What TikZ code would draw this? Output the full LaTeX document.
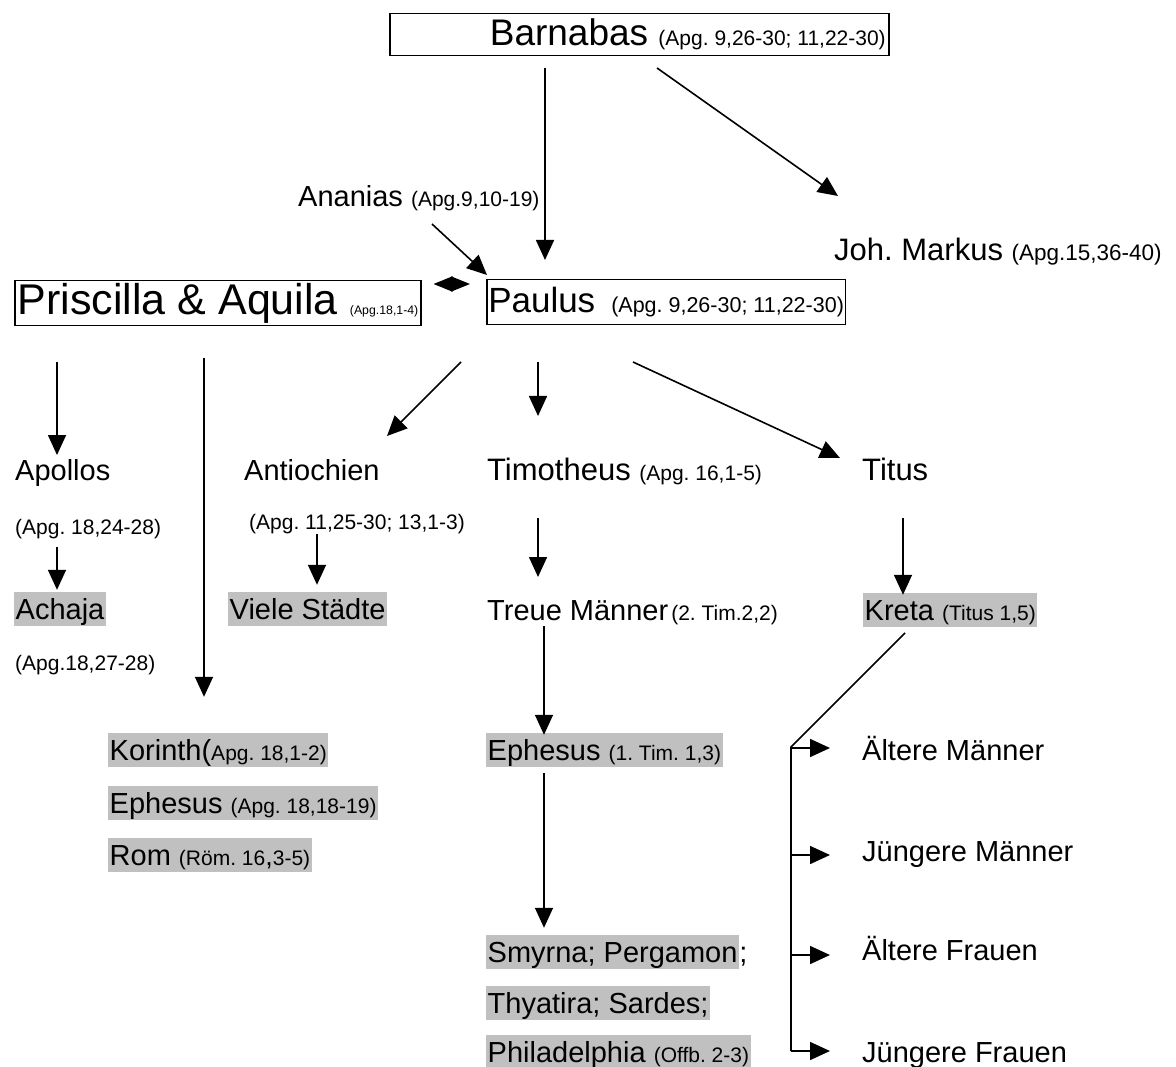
\documentclass[tikz,border=0pt]{standalone}
\usepackage{fontspec}
\setmainfont{Liberation Sans}
\usetikzlibrary{arrows.meta}
\definecolor{shade}{RGB}{192,192,192}
\newcommand{\refs}[1]{{\fontsize{21}{24}\selectfont #1}}
\frenchspacing

\begin{document}
\begin{tikzpicture}[x=1pt, y=-1pt,
  every node/.style={font=\fontsize{29}{34}\selectfont},
  >={Triangle[length=20pt,width=18pt]},
  lbl/.style={anchor=base west, inner sep=0pt},
  place/.style={lbl, fill=shade, inner xsep=1.5pt, text height=27pt, text depth=7pt},
  person/.style={draw, line width=1.5pt, anchor=north west, inner ysep=0pt},
  arr/.style={->, line width=1.6pt}]
	\useasboundingbox (0,0) rectangle (1176,1067);

	% boxed persons
	\node[person, minimum height=42pt, inner xsep=3pt, font=\fontsize{37}{40}\selectfont] (barnabas) at (389,13) {\makebox[493pt][r]{Barnabas \refs{(Apg. 9,26-30; 11,22-30)}}};
	\node[person, minimum height=45pt, inner xsep=1.5pt, font=\fontsize{35}{40}\selectfont] (paulus) at (486,279) {Paulus\hspace{16pt}{\fontsize{21.5}{24}\selectfont(Apg. 9,26-30; 11,22-30)}};
	\node[person, minimum height=45pt, inner xsep=3pt, font=\fontsize{43}{48}\selectfont] (prisc) at (14,280) {\makebox[400pt][l]{Priscilla \& Aquila {\fontsize{12.3}{14}\selectfont(Apg.18,1-4)}}};

	% people
	\node[lbl] (ananias) at (298,207) {Ananias \refs{(Apg.9,10-19)}};
	\node[lbl, font=\fontsize{31}{34}\selectfont] (markus) at (834,261) {Joh. Markus {\fontsize{22.5}{24}\selectfont(Apg.15,36-40)}};
	\node[lbl] (apollos) at (15,480) {Apollos};
	\node[lbl] (apollosref) at (15,534) {\refs{(Apg. 18,24-28)}};
	\node[lbl] (antioch) at (244,480) {Antiochien};
	\node[lbl] (antiochref) at (249,529) {\refs{(Apg. 11,25-30; 13,1-3)}};
	\node[lbl, font=\fontsize{31}{34}\selectfont] (timo) at (487,480) {Timotheus \refs{(Apg. 16,1-5)}};
	\node[lbl, font=\fontsize{31}{34}\selectfont] (titus) at (862,480) {Titus};
	\node[lbl] (treue) at (487,620) {Treue Männer\hspace{3pt}\refs{(2. Tim.2,2)}};

	% places
	\node[place] (achaja) at (14,619) {Achaja};
	\node[lbl] (achajaref) at (15,670) {\refs{(Apg.18,27-28)}};
	\node[place] (viele) at (228,619) {Viele Städte};
	\node[place] (kreta) at (863,620) {Kreta \refs{(Titus 1,5)}};
	\node[place] (korinth) at (108,760) {Korinth(\refs{Apg. 18,1-2)}};
	\node[place] (ephA) at (108,813) {Ephesus \refs{(Apg. 18,18-19)}};
	\node[place] (rom) at (108,865) {Rom \refs{(Röm. 16{\fontsize{27}{30}\selectfont,}3-5)}};
	\node[place] (ephT) at (486,760) {Ephesus \refs{(1. Tim. 1,3)}};
	\node[place] (smyrna) at (486,962) {Smyrna; Pergamon};
	\node[lbl] (smyrnaend) at (smyrna.base east) {;};
	\node[place] (thyatira) at (486,1013) {Thyatira; Sardes;};
	\node[place] (phila) at (486,1062) {Philadelphia \refs{(Offb. 2-3)}};

	% groups in Kreta
	\node[lbl] (aeltM) at (862,760) {Ältere Männer};
	\node[lbl] (jungM) at (862,861) {Jüngere Männer};
	\node[lbl] (aeltF) at (862,960) {Ältere Frauen};
	\node[lbl] (jungF) at (862,1062) {Jüngere Frauen};

	% arrows
	\coordinate (b1) at (545,68);
	\coordinate (b2) at (657,68);
	\coordinate (b3) at (838,196);
	\coordinate (an) at (432,224);
	\draw[arr] (b1) -- ([yshift=19pt]b1 |- paulus.north);
	\draw[arr] (b2) -- (b3);
	\draw[arr] (an) -- ([xshift=1pt,yshift=4pt]paulus.north west);
	\draw[{Triangle[length=19pt,width=15pt]}-{Triangle[length=19pt,width=15pt]}, line width=1.6pt]
		([xshift=12pt,yshift=-4pt]prisc.north east) -- ([xshift=-16pt,yshift=-5pt]paulus.north west);

	\coordinate (p1) at (57,362);
	\coordinate (p2) at (204,358);
	\draw[arr] (p1) -- (57,455);
	\draw[arr] (p2) -- ([yshift=36pt]p2 |- korinth.north);

	\coordinate (q1) at (461,362);
	\coordinate (q2) at (538,362);
	\coordinate (q3) at (633,362);
	\draw[arr] (q1) -- (387,436);
	\draw[arr] (q2) -- (538,416);
	\draw[arr] (q3) -- (840,458);

	\coordinate (a1) at (57,547);
	\coordinate (v1) at (317,534);
	\coordinate (t1) at (538,518);
	\coordinate (k1) at (903,518);
	\draw[arr] (a1) -- ([yshift=2pt]a1 |- achaja.north);
	\draw[arr] (v1) -- ([yshift=7pt]v1 |- viele.north);
	\draw[arr] (t1) -- (538,577);
	\draw[arr] (k1) -- ([yshift=-2pt]k1 |- kreta.north);

	\coordinate (e1) at (544,626);
	\coordinate (e2) at (544,773);
	\draw[arr] (e1) -- ([yshift=-2pt]e1 |- ephT.north);
	\draw[arr] (e2) -- ([yshift=7pt]e2 |- smyrna.north);

	% Kreta branches
	\coordinate (kr) at (905,633);
	\coordinate (corner) at (791,747);
	\draw[line width=1.6pt] (kr) -- (corner) -- (791,1051);
	\foreach \nm/\yy in {aeltM/748, jungM/855, aeltF/955, jungF/1051} {
		\coordinate (sp-\nm) at (791,\yy);
		\draw[arr, shorten >=32pt] (sp-\nm) -- (sp-\nm -| \nm.west);
	}
\end{tikzpicture}
\end{document}
